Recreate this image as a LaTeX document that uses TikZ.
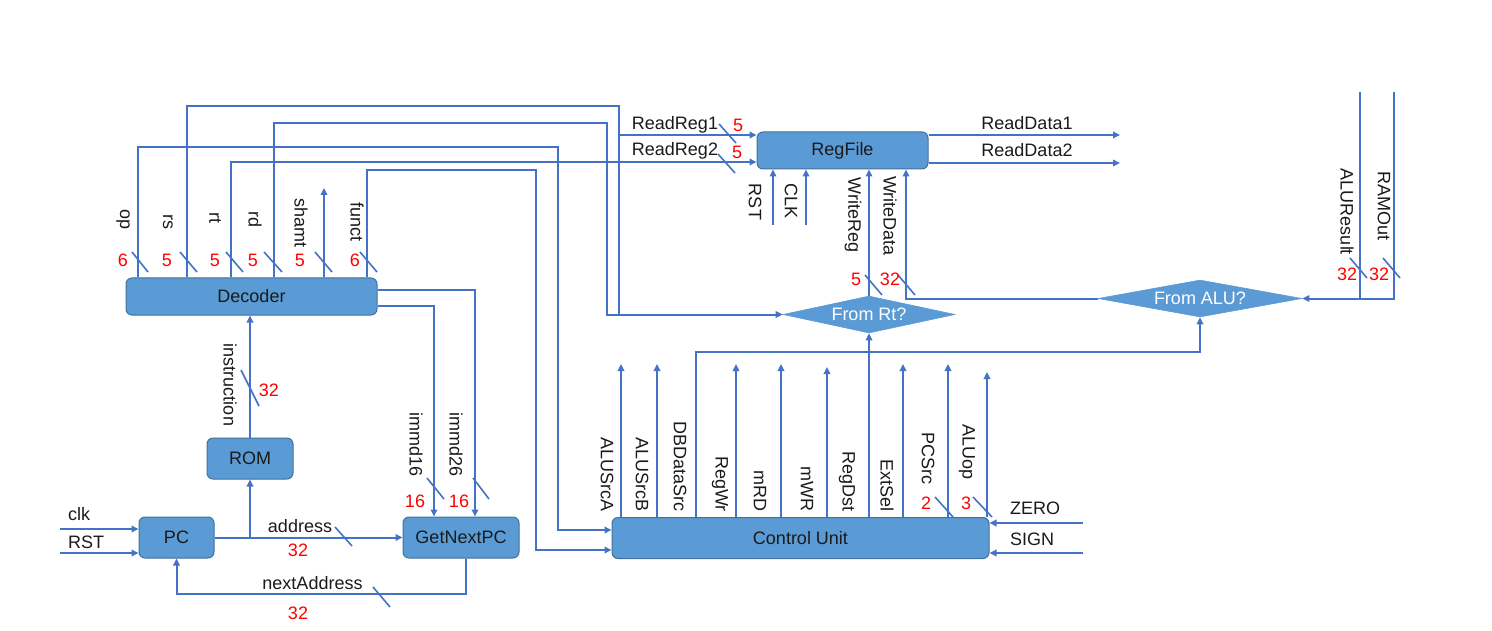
\documentclass[tikz,border=0pt]{standalone}
\usepackage{fontspec}
\setmainfont{Liberation Sans}
\usetikzlibrary{shapes.geometric,arrows.meta}
\definecolor{wireblue}{HTML}{4472C4}
\definecolor{boxfill}{HTML}{5B9BD5}
\definecolor{boxline}{HTML}{41719C}
\definecolor{txt}{HTML}{1A1A1A}
\newcommand\labfont{\fontsize{18}{21}\selectfont}
\begin{document}
\begin{tikzpicture}[x=1pt,y=-1pt,
  blk/.style={draw=boxline,fill=boxfill,line width=1pt,rounded corners=6pt,inner sep=0pt,font=\labfont,text=txt},
  dia/.style={diamond,fill=boxfill,draw=boxfill,line width=0.6pt,inner sep=0pt,font=\labfont,text=white},
  wire/.style={draw=wireblue,line width=2pt},
  arr/.style={-{Triangle[length=7pt,width=6.5pt]}},
  busmark/.style={draw=wireblue,line width=1.6pt},
  lab/.style={font=\labfont,text=txt,inner sep=0pt},
  vlab/.style={lab,rotate=-90},
  num/.style={font=\labfont,text=red,inner sep=0pt}]
\useasboundingbox (0,0) rectangle (1492,631);

% blocks
\node[blk,minimum width=251pt,minimum height=37pt] (dec) at (251.5,296.5) {Decoder};
\node[blk,minimum width=171pt,minimum height=37pt] (rf) at (842.5,150.5) {RegFile};
\node[blk,minimum width=86pt,minimum height=41pt] (rom) at (250,458.5) {ROM};
\node[blk,minimum width=75pt,minimum height=41pt] (pc) at (176.5,537.5) {PC};
\node[blk,minimum width=116pt,minimum height=41pt] (gnpc) at (461,537.5) {GetNextPC};
\node[blk,minimum width=377pt,minimum height=41pt] (cu) at (800.5,538) {Control Unit};
\node[dia,aspect=4.65,minimum width=172pt,minimum height=37pt] (frt) at (869,314.5) {From Rt?};
\node[dia,aspect=5.5,minimum width=204pt,minimum height=37pt] (falu) at (1200,298.5) {From ALU?};

% free-end coordinates
\coordinate (rsbr) at (619,135);
\coordinate (shamtout) at (324,188);
\coordinate (clkin) at (60,529);
\coordinate (rstin) at (60,553);
\coordinate (rfrst) at (773,225);
\coordinate (rfclk) at (806,225);
\coordinate (rd1out) at (1120,135);
\coordinate (rd2out) at (1120,163);
\coordinate (alutop) at (1360,92);
\coordinate (ramtop) at (1394,92);
\coordinate (zeroin) at (1083,523);
\coordinate (signin) at (1083,553);

% decoder outputs
\draw[wire,arr] (dec.north -| 138,0) |- (558,147) |- (cu.west |- 0,530);
\draw[wire] (dec.north -| 187,0) |- (619,106) -- (619,314.5);
\draw[wire,arr] (rsbr) -- (rf.west |- rsbr);
\draw[wire,arr] (dec.north -| 231,0) |- (rf.west |- 0,162);
\draw[wire,arr] (dec.north -| 274,0) |- (607,123) |- (frt.west);
\draw[wire,arr] (dec.north -| shamtout) -- (shamtout);
\draw[wire,arr] (dec.north -| 367,0) |- (536,170) |- (cu.west |- 0,550);
\draw[wire,arr] (dec.east |- 0,290) -| (gnpc.north -| 475,0);
\draw[wire,arr] (dec.east |- 0,306) -| (gnpc.north -| 434,0);

% instruction path
\draw[wire,arr] (rom.north) -- (dec.south -| rom.north);
\draw[wire,arr] (pc.east) -- (gnpc.west);
\draw[wire,arr] (pc.east -| rom.south) -- (rom.south);
\draw[wire,arr] (gnpc.south -| 466,0) |- (pc.south |- 0,594) -- (pc.south);
\draw[wire,arr] (clkin) -- (pc.west |- clkin);
\draw[wire,arr] (rstin) -- (pc.west |- rstin);

% regfile
\draw[wire,arr] (rfrst) -- (rf.south -| rfrst);
\draw[wire,arr] (rfclk) -- (rf.south -| rfclk);
\draw[wire,arr] (frt.north) -- (rf.south -| frt.north);
\draw[wire,arr] (falu.west) -| (rf.south -| 906,0);
\draw[wire,arr] (rf.east |- rd1out) -- (rd1out);
\draw[wire,arr] (rf.east |- rd2out) -- (rd2out);

% ALU / RAM inputs
\draw[wire] (alutop) -- (alutop |- falu.east);
\draw[wire,arr] (ramtop) |- (falu.east);

% control unit
\draw[wire,arr] (cu.north -| 696,0) |- (falu.south |- 0,352) -- (falu.south);
\draw[wire,arr] (cu.north -| frt.south) -- (frt.south);
\foreach \x/\y in {621/364,657/364,736/364,781/364,827/367,903/364,948/364,987/372}
  \draw[wire,arr] (cu.north -| \x,0) -- (\x,\y);
\draw[wire,arr] (zeroin) -- (cu.east |- zeroin);
\draw[wire,arr] (signin) -- (cu.east |- signin);

% bus marks
\foreach \a/\b/\c/\d in {132/252/148/272,180/252/197/272,226/252/243/272,264/252/282/272,315/252/332/272,360/252/377/272,
  719/124/736/143,718/154/735/173,865/275/882/295,898/275/915/295,1350/258/1367/278,1383/258/1400/278,
  935/497/953/517,973/497/992/517,427/478/444/499,473/478/489/499,335/527/352/546,373/587/390/607,241/370/259/406}
  \draw[busmark] (\a,\b) -- (\c,\d);

% decoder labels
\node[vlab] (lop) at (123,220) {op};
\node[vlab] (lrs) at (168,222) {rs};
\node[vlab] (lrt) at (215,218) {rt};
\node[vlab] (lrd) at (255,220) {rd};
\node[vlab] (lshamt) at (301,223) {shamt};
\node[vlab] (lfunct) at (357,222) {funct};
\node[num] (nop) at (123,260) {6};
\node[num] (nrs) at (167,260) {5};
\node[num] (nrt) at (215,260) {5};
\node[num] (nrd) at (253,260) {5};
\node[num] (nshamt) at (300,260) {5};
\node[num] (nfunct) at (355,260) {6};

% regfile labels
\node[lab] (lrr1) at (675,125) {ReadReg1};
\node[lab] (lrr2) at (675,151) {ReadReg2};
\node[num] (nrr1) at (738,125) {5};
\node[num] (nrr2) at (737,152) {5};
\node[vlab] (lrst2) at (755,202) {RST};
\node[vlab] (lclk2) at (791,201) {CLK};
\node[vlab] (lwreg) at (853,215) {WriteReg};
\node[vlab] (lwdata) at (890,216) {WriteData};
\node[num] (nwreg) at (856,279.5) {5};
\node[num] (nwdata) at (890,279.5) {32};
\node[lab] (lrd1) at (1027,123.5) {ReadData1};
\node[lab] (lrd2) at (1027,150) {ReadData2};
\node[vlab] (lalur) at (1347,212) {ALUResult};
\node[vlab] (lram) at (1384,206) {RAMOut};
\node[num] (nalur) at (1347,274) {32};
\node[num] (nram) at (1379,274) {32};

% lower-left labels
\node[vlab] (linstr) at (230,385) {instruction};
\node[num] (ninstr) at (269,390) {32};
\node[vlab] (limm16) at (416,445) {immd16};
\node[vlab] (limm26) at (456,445) {immd26};
\node[num] (nimm16) at (415,501) {16};
\node[num] (nimm26) at (459,501) {16};
\node[lab,anchor=west] (lclk) at (68,514) {clk};
\node[lab,anchor=west] (lrst) at (68,542) {RST};
\node[lab] (laddr) at (300,526) {address};
\node[num] (naddr) at (298,550.5) {32};
\node[lab] (lnext) at (312.5,583) {nextAddress};
\node[num] (nnext) at (298,613) {32};

% control unit labels
\node[vlab,anchor=east] (lasa) at (607,512) {ALUSrcA};
\node[vlab,anchor=east] (lasb) at (642,512) {ALUSrcB};
\node[vlab,anchor=east] (ldbd) at (680,512) {DBDataSrc};
\node[vlab,anchor=east] (lregwr) at (720,512) {RegWr};
\node[vlab,anchor=east] (lmrd) at (760,512) {mRD};
\node[vlab,anchor=east] (lmwr) at (807,512) {mWR};
\node[vlab,anchor=east] (lregdst) at (847,512) {RegDst};
\node[vlab,anchor=east] (lextsel) at (887,512) {ExtSel};
\node[vlab,anchor=east] (lpcsrc) at (928,485) {PCSrc};
\node[vlab,anchor=east] (laluop) at (967,480) {ALUop};
\node[num] (npcsrc) at (926,503.5) {2};
\node[num] (naluop) at (966,503.5) {3};
\node[lab,anchor=west] (lzero) at (1010,508.5) {ZERO};
\node[lab,anchor=west] (lsign) at (1010,539) {SIGN};
\end{tikzpicture}
\end{document}
